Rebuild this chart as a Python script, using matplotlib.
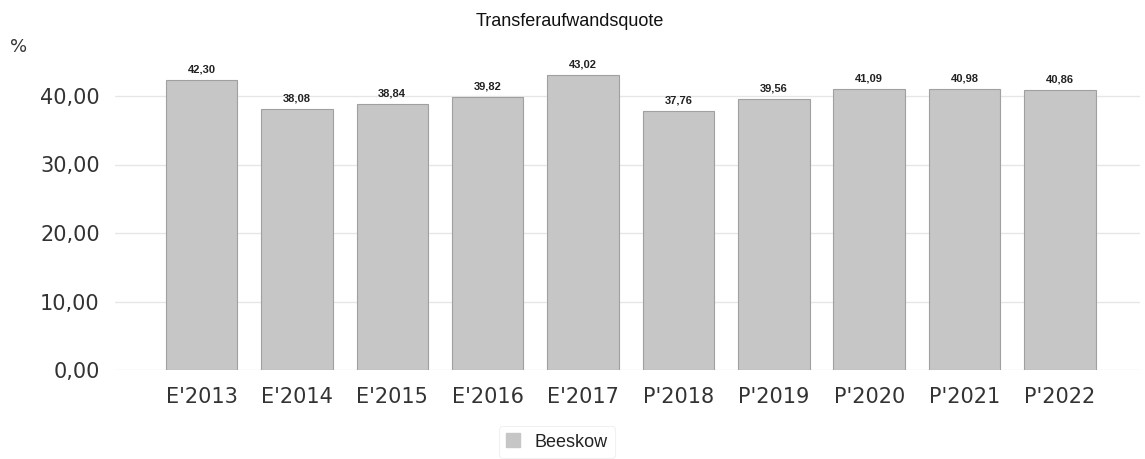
import matplotlib
matplotlib.use("Agg")
import matplotlib.pyplot as plt
from matplotlib.patches import Patch

categories = ["E'2013", "E'2014", "E'2015", "E'2016", "E'2017",
              "P'2018", "P'2019", "P'2020", "P'2021", "P'2022"]
values = [42.30, 38.08, 38.84, 39.82, 43.02, 37.76, 39.56, 41.09, 40.98, 40.86]
yticks = [0, 10, 20, 30, 40]
series_name = "Beeskow"
title = "Transferaufwandsquote"

W, H = 1145, 459
fig = plt.figure(figsize=(W / 100, H / 100), dpi=100)
fig.patch.set_facecolor("white")

# pixel geometry
left_px, right_px = 115, 1140
y0_px = 370
px_per_unit = (370 - 96) / 40.0
ymax = 45.5
top_px = y0_px - ymax * px_per_unit
ax = fig.add_axes([left_px / W, 1 - y0_px / H,
                   (right_px - left_px) / W, (y0_px - top_px) / H])

spacing = (1060 - 201.5) / 9
xmin = -(201.5 - left_px) / spacing
xmax = 9 + (right_px - 1060) / spacing

x = list(range(len(categories)))
ax.bar(x, values, width=0.75, color="#c6c6c6", edgecolor="#a0a0a0",
       linewidth=0.8, zorder=2)
for xi, v in zip(x, values):
    ax.text(xi, v + 0.8, f"{v:.2f}".replace(".", ","), ha="center", va="bottom",
            fontsize=8, fontweight="bold", family="Liberation Sans",
            color="#222222")

ax.set_xlim(xmin, xmax)
ax.set_ylim(0, ymax)
ax.set_yticks(yticks)
ax.set_yticklabels([f"{t:.2f}".replace(".", ",") for t in yticks],
                   fontsize=15, color="#333333", family="DejaVu Sans")
ax.set_xticks(x)
ax.set_xticklabels(categories, fontsize=15, color="#333333", family="DejaVu Sans")
ax.tick_params(axis="both", length=0)
ax.tick_params(axis="y", pad=11)
ax.tick_params(axis="x", pad=12.5)
ax.grid(axis="y", color="#e6e6e6", linewidth=1, zorder=0)
for s in ax.spines.values():
    s.set_visible(False)

fig.text(570 / W, 1 - 21 / H, title, ha="center", va="center",
         fontsize=13, family="Liberation Sans", color="#111111")
fig.text(19 / W, 1 - 47 / H, "%", ha="center", va="center",
         fontsize=13, family="DejaVu Sans", color="#333333")

leg = fig.legend(handles=[Patch(facecolor="#c6c6c6", edgecolor="#c6c6c6", label=series_name)],
                 loc="center", bbox_to_anchor=(557 / W, 1 - 442 / H),
                 frameon=True, fontsize=13, handlelength=0.8, handleheight=0.8,
                 handletextpad=0.8, borderpad=0.4)
leg.get_frame().set_edgecolor("#eeeeee")
leg.get_frame().set_linewidth(0.8)
for t in leg.get_texts():
    t.set_family("Liberation Sans")
    t.set_color("#222222")

fig.savefig("out.png", dpi=100, facecolor="white")
